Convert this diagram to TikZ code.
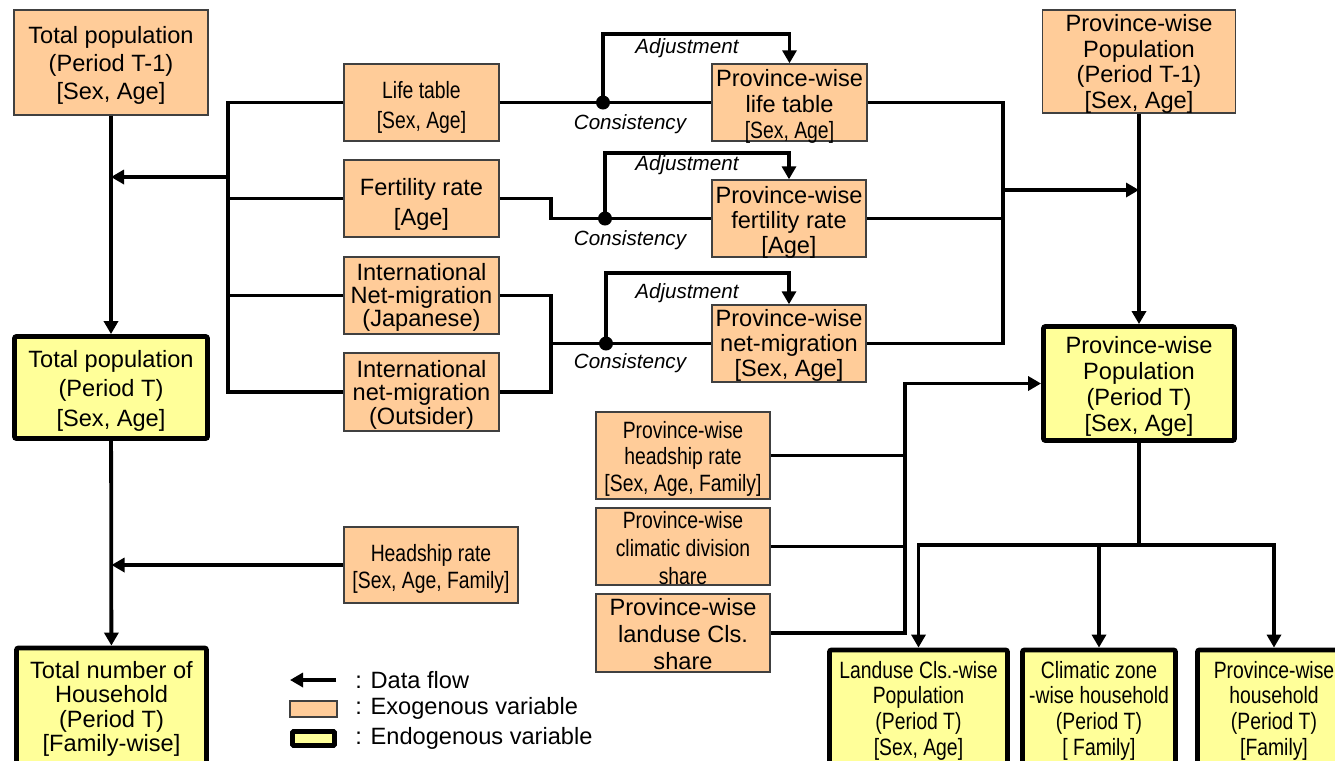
\documentclass[tikz,border=0pt]{standalone}
\usepackage{fontspec}
\setmainfont{Liberation Sans}
\newfontfamily\narrowf[FakeStretch=0.82]{Liberation Sans}
\usetikzlibrary{arrows.meta}
\definecolor{exofill}{HTML}{FFCC99}
\definecolor{endofill}{HTML}{FFFF99}
\definecolor{exoline}{HTML}{404040}
\newcommand\fsz[1]{\fontsize{11.8}{#1}\selectfont}
% #1 box name, #2 downward shift (px), #3 font, #4 text
\newcommand\btxt[4]{\node[txt,font={#3}] (#1T) at ([yshift=-#2*0.5pt]#1.center) {#4};}
\begin{document}
\begin{tikzpicture}[x=0.5pt,y=-0.5pt,
  exo/.style={draw=exoline,line width=0.7pt,fill=exofill,inner sep=0pt},
  endo/.style={draw=black,line width=2.4pt,fill=endofill,inner sep=0pt,rounded corners=1pt},
  txt/.style={inner sep=0pt,align=center},
  conn/.style={line width=1.9pt},
  flow/.style={conn,-{Triangle[length=6.5pt,width=7pt]}},
  lbl/.style={font=\fontsize{10.3}{12}\selectfont\itshape,inner sep=0pt},
  legtext/.style={font=\fsz{14},inner sep=0pt,anchor=west},
]
\useasboundingbox (0,0) rectangle (1335,761);
\clip (0,0) rectangle (1335,761);
\fill[white] (0,0) rectangle (1335,761);

% ---- boxes
\node[exo,minimum width=97pt,minimum height=52.5pt] (tpT1) at (111,62.5) {};
\btxt{tpT1}{3}{\fsz{14}}{Total population\\(Period T-1)\\{}[Sex, Age]}
\node[exo,minimum width=77.5pt,minimum height=38.5pt] (life) at (421.5,102.5) {};
\btxt{life}{5}{\narrowf\fsz{15}}{Life table\\{}[Sex, Age]}
\node[exo,minimum width=77.5pt,minimum height=38.5pt] (fert) at (421.5,198.5) {};
\btxt{fert}{6}{\fsz{15}}{Fertility rate\\{}[Age]}
\node[exo,minimum width=77.5pt,minimum height=38.5pt] (jap) at (421.5,295.5) {};
\btxt{jap}{2}{\fsz{11.6}}{International\\Net-migration\\(Japanese)}
\node[exo,minimum width=77.5pt,minimum height=39pt] (outs) at (421.5,392) {};
\btxt{outs}{2.5}{\fsz{11.8}}{International\\net-migration\\(Outsider)}
\node[exo,minimum width=77.5pt,minimum height=38.5pt] (plife) at (789.5,102.5) {};
\btxt{plife}{3.5}{\fsz{13}}{Province-wise\\life table\\{\narrowf [Sex, Age]}}
\node[exo,minimum width=77pt,minimum height=38.5pt] (pfert) at (789,218.5) {};
\btxt{pfert}{3.5}{\fsz{12.5}}{Province-wise\\fertility rate\\{}[Age]}
\node[exo,minimum width=77pt,minimum height=38.5pt] (pmig) at (789,343.5) {};
\btxt{pmig}{2}{\fsz{12.5}}{Province-wise\\net-migration\\{}[Sex, Age]}
\node[exo,minimum width=96.5pt,minimum height=51.5pt] (ppT1) at (1139,61.5) {};
\btxt{ppT1}{2.5}{\fsz{12.85}}{Province-wise\\Population\\(Period T-1)\\{}[Sex, Age]}
\node[endo,minimum width=96.5pt,minimum height=51pt] (tpT) at (111,387.5) {};
\btxt{tpT}{3}{\fsz{14.8}}{Total population\\(Period T)\\{}[Sex, Age]}
\node[endo,minimum width=95.5pt,minimum height=57pt] (ppT) at (1139,383.5) {};
\btxt{ppT}{3}{\fsz{13}}{Province-wise\\Population\\(Period T)\\{}[Sex, Age]}
\node[exo,minimum width=87pt,minimum height=43.5pt] (phead) at (683,455.5) {};
\btxt{phead}{3}{\narrowf\fsz{13.25}}{Province-wise\\headship rate\\{}[Sex, Age, Family]}
\node[exo,minimum width=87pt,minimum height=38.5pt] (pclim) at (683,546.5) {};
\btxt{pclim}{2}{\narrowf\fsz{14}}{Province-wise\\climatic division\\share}
\node[exo,minimum width=87pt,minimum height=39pt] (pland) at (683,633) {};
\btxt{pland}{1.5}{\fsz{13.5}}{Province-wise\\landuse Cls.\\share}
\node[exo,minimum width=87pt,minimum height=38pt] (head) at (431,565) {};
\btxt{head}{3.5}{\narrowf\fsz{13.5}}{Headship rate\\{}[Sex, Age, Family]}
\node[endo,minimum width=95pt,minimum height=58.5pt] (tnh) at (111.5,706.5) {};
\btxt{tnh}{2.5}{\fsz{12.25}}{Total number of\\Household\\(Period T)\\{}[Family-wise]}
\node[endo,minimum width=89pt,minimum height=58.5pt] (lcls) at (918.5,708.5) {};
\btxt{lcls}{2}{\narrowf\fsz{12.85}}{Landuse Cls.-wise\\Population\\(Period T)\\{}[Sex, Age]}
\node[endo,minimum width=76.5pt,minimum height=58.5pt] (czone) at (1099,708.5) {};
\btxt{czone}{2}{\narrowf\fsz{12.85}}{Climatic zone\\-wise household\\(Period T)\\{}[ Family]}
\node[endo,minimum width=76.5pt,minimum height=58.5pt] (phh) at (1274,708.5) {};
\btxt{phh}{2}{\narrowf\fsz{12.85}}{Province-wise\\household\\(Period T)\\{}[Family]}

% ---- coordinates
\coordinate (bL) at (228,0);
\coordinate (aL) at (228,177);
\coordinate (bR) at (1003,0);
\coordinate (aR) at (1003,190);
\coordinate (bP) at (905,0);
\coordinate (k2) at (551,208);
\coordinate (k3) at (551,343.5);
\coordinate (dot1) at (603,102.5);
\coordinate (dot2) at (605,218.5);
\coordinate (dot3) at (606,343.5);
\coordinate (top1) at (789.5,34);
\coordinate (top2) at (789,153);
\coordinate (top3) at (789,273);
\coordinate (j) at (1139,545);

% ---- left column
\draw[flow] (tpT1) -- (tpT);
\draw[flow] (tpT) -- (tnh);
\draw[conn] (life.west) -| (bL |- outs.west) -- (outs.west);
\draw[conn] (fert.west) -- (fert.west -| bL);
\draw[conn] (jap.west) -- (jap.west -| bL);
\draw[flow] (aL) -- (aL -| tpT1.south);
\draw[flow] (head.west) -- (head.west -| tnh.north);

% ---- consistency / adjustment
\draw[conn] (life.east) -- (plife.west);
\draw[flow] (dot1) |- (top1) -- (plife.north);
\fill (dot1) circle (3.5pt);
\draw[conn] (fert.east) -| (k2) |- (pfert.west);
\draw[flow] (dot2) |- (top2) -- (pfert.north);
\fill (dot2) circle (3.5pt);
\draw[conn] (jap.east) -| (k3) |- (outs.east);
\draw[conn] (k3) -- (pmig.west);
\draw[flow] (dot3) |- (top3) -- (pmig.north);
\fill (dot3) circle (3.5pt);

\node[lbl] (adj1) at (687,48) {Adjustment};
\node[lbl] (con1) at (630,124) {Consistency};
\node[lbl] (adj2) at (687,165) {Adjustment};
\node[lbl] (con2) at (630,240) {Consistency};
\node[lbl] (adj3) at (687,293) {Adjustment};
\node[lbl] (con3) at (630,363) {Consistency};

% ---- right side
\draw[conn] (plife.east) -| (bR |- pmig.east) -- (pmig.east);
\draw[conn] (pfert.east) -- (pfert.east -| bR);
\draw[flow] (aR) -- (aR -| ppT1.south);
\draw[flow] (ppT1) -- (ppT);
\draw[flow] (pland.east) -| (bP |- ppT.west) -- (ppT.west);
\draw[conn] (phead.east) -- (phead.east -| bP);
\draw[conn] (pclim.east) -- (pclim.east -| bP);
\draw[conn] (ppT.south) -- (j);
\draw[flow] (j) -| (lcls.north);
\draw[flow] (j) -| (phh.north);
\draw[flow] (czone.north |- j) -- (czone.north);

% ---- legend
\coordinate (lgS) at (336,680);
\coordinate (lgE) at (290,680);
\draw[flow] (lgS) -- (lgE);
\node[exo,minimum width=23.5pt,minimum height=8pt] (lgexo) at (313.5,709) {};
\node[endo,minimum width=21pt,minimum height=7pt,rounded corners=0.5pt] (lgendo) at (313.5,738.5) {};
\node[legtext] (lt1) at (355,680) {: Data flow};
\node[legtext] (lt2) at (355,708) {: Exogenous variable};
\node[legtext] (lt3) at (355,738) {: Endogenous variable};
\end{tikzpicture}
\end{document}
